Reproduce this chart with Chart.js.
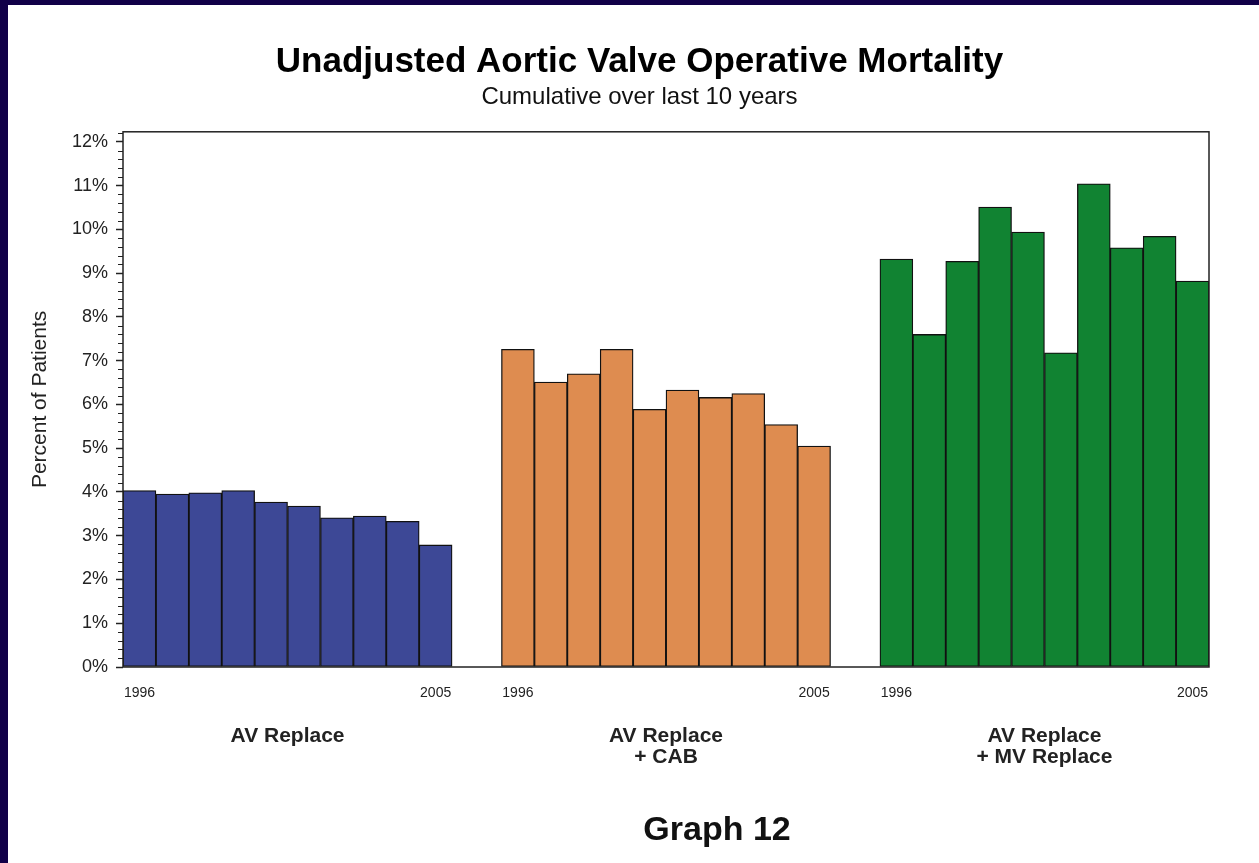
<!DOCTYPE html>
<html><head><meta charset="utf-8">
<script src="https://cdn.jsdelivr.net/npm/chart.js@4/dist/chart.umd.min.js"></script>
<style>
html,body{margin:0;padding:0;background:#110048;overflow:hidden;width:1259px;height:863px}
#wrap{position:absolute;left:8px;top:5px;width:1251px;height:858px;background:#fff}
canvas{display:block}
</style></head><body>
<div id="wrap"><canvas id="c" width="1251" height="858"></canvas></div>
<script>
// ---- data ----
const titleText = 'Unadjusted Aortic Valve Operative Mortality';
const subtitleText = 'Cumulative over last 10 years';
const footerText = 'Graph 12';
const yAxisTitle = 'Percent of Patients';
const years = ['1996','1997','1998','1999','2000','2001','2002','2003','2004','2005'];
const groupLabels = [['AV Replace'], ['AV Replace', '+ CAB'], ['AV Replace', '+ MV Replace']];
const avReplace = [4.03, 3.95, 3.98, 4.03, 3.77, 3.68, 3.41, 3.45, 3.33, 2.79];
const avReplaceCab = [7.26, 6.51, 6.70, 7.26, 5.89, 6.33, 6.16, 6.25, 5.54, 5.05];
const avReplaceMv = [9.32, 7.60, 9.27, 10.51, 9.94, 7.18, 11.04, 9.58, 9.84, 8.82];
const yTickValues = [0,1,2,3,4,5,6,7,8,9,10,11,12];

// ---- layout helpers (slot offsets of each group on the x scale) ----
const groupStart = [0, 11.5, 23];
const seriesList = [avReplace, avReplaceCab, avReplaceMv];
const colors = ['#3d4896', '#de8c50', '#118332'];

const datasets = seriesList.map((vals, g) => ({
  label: groupLabels[g].join(' '),
  data: vals.map((v, i) => ({x: groupStart[g] + i, y: v})),
  backgroundColor: colors[g],
  borderColor: '#111',
  borderWidth: 1.3,
  borderSkipped: false,
  grouped: false,
  barPercentage: 1,
  categoryPercentage: 1,
  xAxisID: 'x',
  yAxisID: 'y'
}));

const yearTickVals = [];
groupStart.forEach(s => { yearTickVals.push(s, s + years.length - 1); });
const groupCenters = groupStart.map(s => s + (years.length - 1) / 2);

const FONT = '"Liberation Sans", Arial, sans-serif';

const framePlugin = {
  id: 'frame',
  afterDraw(chart) {
    const {ctx, chartArea: a, scales: {y}} = chart;
    ctx.save();
    ctx.strokeStyle = '#222';
    ctx.lineWidth = 1.5;
    ctx.strokeRect(a.left, a.top, a.right - a.left, a.bottom - a.top);
    ctx.lineWidth = 1;
    for (let k = 1; k <= 61; k++) {
      if (k % 5 === 0) continue;
      const py = Math.round(y.getPixelForValue(k * 0.2)) + 0.5;
      ctx.beginPath();
      ctx.moveTo(a.left - 5, py);
      ctx.lineTo(a.left, py);
      ctx.stroke();
    }
    ctx.fillStyle = '#111';
    ctx.font = 'bold 34px ' + FONT;
    ctx.textAlign = 'center';
    ctx.textBaseline = 'middle';
    ctx.fillText(footerText, 709, 826);
    ctx.restore();
  }
};

new Chart(document.getElementById('c'), {
  type: 'bar',
  data: {datasets},
  plugins: [framePlugin],
  options: {
    responsive: false,
    animation: false,
    layout: {padding: {left: 62, right: 50, top: 0, bottom: 0}},
    plugins: {
      legend: {display: false},
      tooltip: {enabled: false},
      title: {display: true, text: titleText, color: '#000',
        font: {family: FONT, size: 35, weight: 'bold'}, padding: {top: 36, bottom: 0}},
      subtitle: {display: true, text: subtitleText, color: '#111',
        font: {family: FONT, size: 24}, padding: {top: 0, bottom: 20}}
    },
    scales: {
      x: {
        type: 'linear', position: 'bottom', weight: 1,
        min: -0.5, max: 32.5, offset: false,
        afterBuildTicks: s => { s.ticks = yearTickVals.map(v => ({value: v})); },
        ticks: {autoSkip: false, maxRotation: 0, color: '#222',
          font: {family: FONT, size: 14}, padding: 17.6,
          callback: (v, i) => (i % 2 === 0 ? years[0] : years[years.length - 1])},
        grid: {display: false, drawTicks: false},
        border: {display: false},
        afterFit: s => { s.height = 40; }
      },
      x2: {
        type: 'linear', position: 'bottom', weight: 2,
        min: -0.5, max: 32.5, offset: false,
        afterBuildTicks: s => { s.ticks = groupCenters.map(v => ({value: v})); },
        ticks: {autoSkip: false, maxRotation: 0, color: '#222',
          font: {family: FONT, size: 21, weight: 'bold', lineHeight: 1.0}, padding: 19,
          callback: (v, i) => groupLabels[i]},
        grid: {display: false, drawTicks: false},
        border: {display: false},
        afterFit: s => { s.height = 156; }
      },
      y: {
        type: 'linear', position: 'left', min: 0, max: 12.23,
        afterBuildTicks: s => { s.ticks = yTickValues.map(v => ({value: v})); },
        ticks: {autoSkip: false, color: '#222', font: {family: FONT, size: 18}, padding: 8,
          callback: v => v + '%'},
        grid: {drawOnChartArea: false, drawTicks: true, tickLength: 7, tickColor: '#222', tickWidth: 1.5},
        border: {display: false},
        title: {display: true, text: yAxisTitle, color: '#222',
          font: {family: FONT, size: 21}, padding: {top: -42.6, bottom: 0}},
        afterFit: s => { s.width = 53; }
      }
    }
  }
});
</script>
</body></html>
